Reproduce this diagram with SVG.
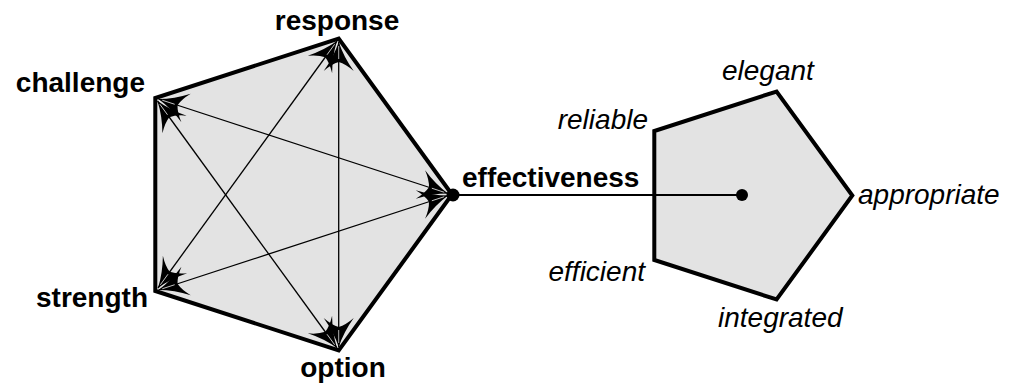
<svg xmlns="http://www.w3.org/2000/svg" width="1009" height="385" viewBox="0 0 1009 385">
<style>
.bg{fill:#ffffff}
.pent{fill:#e3e3e3;stroke:#000;stroke-width:4;stroke-linejoin:miter}
.diag{stroke:#000;stroke-width:1.3;fill:none;marker-start:url(#dart);marker-end:url(#dart)}
.link{stroke:#000;stroke-width:2;fill:none}
.dot{fill:#000}
.lb{font-family:"Liberation Sans",Arial,sans-serif;font-weight:bold;font-size:28px;fill:#000}
.li{font-family:"Liberation Sans",Arial,sans-serif;font-style:italic;font-size:28px;fill:#000}
</style>
<defs>
<marker id="dart" markerUnits="userSpaceOnUse" orient="auto-start-reverse" viewBox="-32 -18 34 36" refX="0" refY="0" markerWidth="34" markerHeight="36">
<path d="M0,0 Q-15,-5 -29,-15 Q-22,-7 -20,0 Q-22,7 -29,15 Q-15,5 0,0 Z" fill="#000"/>
<path d="M-4,0 L-17,0" stroke="#fff" stroke-width="0.7"/>
</marker>
</defs>
<rect class="bg" x="0" y="0" width="1009" height="385"/>
<g id="left-pentagon">
<polygon class="pent" points="452,194.5 338.7,38.5 155.3,98 155.3,291 338.7,350.5"/>
</g>
<g id="right-pentagon">
<polygon class="pent" points="852.3,195.5 776.6,91.5 654.3,131 654.3,260 776.6,299.5"/>
</g>
<g id="connectors">
<line class="diag" x1="337" y1="41" x2="158" y2="288"/>
<line class="diag" x1="338.7" y1="42" x2="338.7" y2="347"/>
<line class="diag" x1="158.5" y1="99" x2="448" y2="193.5"/>
<line class="diag" x1="157.5" y1="101" x2="337" y2="348"/>
<line class="diag" x1="158.5" y1="290" x2="448" y2="195.5"/>
<line class="link" x1="453" y1="195" x2="742" y2="195"/>
<circle class="dot" cx="453" cy="195" r="6.5"/>
<circle class="dot" cx="742" cy="195" r="6"/>
</g>
<g id="node-response"><text class="lb" x="337" y="30" text-anchor="middle">response</text></g>
<g id="node-challenge"><text class="lb" x="145" y="92" text-anchor="end">challenge</text></g>
<g id="node-strength"><text class="lb" x="148" y="307" text-anchor="end">strength</text></g>
<g id="node-option"><text class="lb" x="343" y="377" text-anchor="middle">option</text></g>
<g id="node-effectiveness"><text class="lb" x="462" y="187">effectiveness</text></g>
<g id="node-elegant"><text class="li" x="722" y="80">elegant</text></g>
<g id="node-reliable"><text class="li" x="648" y="129" text-anchor="end">reliable</text></g>
<g id="node-appropriate"><text class="li" x="858" y="204">appropriate</text></g>
<g id="node-efficient"><text class="li" x="645" y="281" text-anchor="end">efficient</text></g>
<g id="node-integrated"><text class="li" x="718" y="327">integrated</text></g>
</svg>
